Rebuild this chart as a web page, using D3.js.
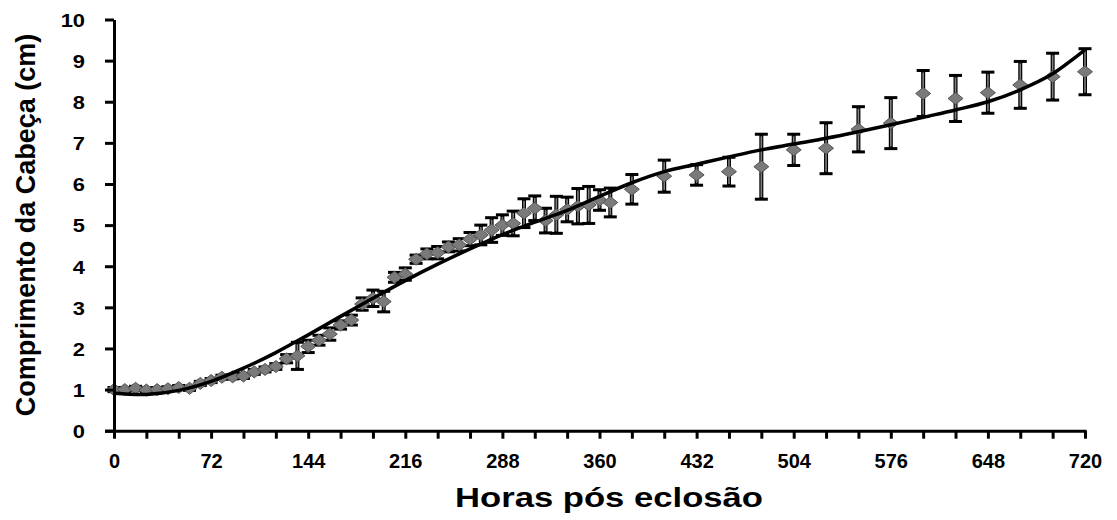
<!DOCTYPE html>
<html>
<head>
<meta charset="utf-8">
<script src="https://cdn.jsdelivr.net/npm/d3@7"></script>
<style>
  html, body { margin: 0; padding: 0; background: #fff; }
  svg { display: block; }
  text { font-family: "Liberation Sans", Arial, sans-serif; font-weight: bold; fill: #000; }
</style>
</head>
<body>
<svg id="chart" width="1117" height="520"></svg>
<script>
// Head length (cm) measured against hours after hatching
const hours = [0, 8, 16, 24, 32, 40, 48, 56, 64, 72, 80, 88, 96, 104, 112, 120, 128, 136,
  144, 152, 160, 168, 176, 184, 192, 200, 208, 216, 224, 232, 240, 248, 256, 264, 272,
  280, 288, 296, 304, 312, 320, 328, 336, 344, 352, 360, 368,
  384, 408, 432, 456, 480, 504, 528, 552, 576, 600, 624, 648, 672, 696, 720];

const meanLength = [1.00, 1.00, 1.03, 0.99, 1.00, 1.02, 1.05, 1.03, 1.15, 1.22, 1.30, 1.31, 1.33, 1.43, 1.49, 1.56, 1.75, 1.82,
  2.05, 2.20, 2.35, 2.57, 2.69, 3.08, 3.22, 3.14, 3.73, 3.81, 4.17, 4.30, 4.33, 4.47, 4.52, 4.66, 4.76,
  4.88, 5.00, 5.04, 5.29, 5.41, 5.11, 5.25, 5.38, 5.46, 5.49, 5.61, 5.55,
  5.87, 6.19, 6.22, 6.30, 6.42, 6.83, 6.87, 7.33, 7.48, 8.20, 8.08, 8.22, 8.41, 8.61, 8.73];

const stdDev = [0.05, 0.05, 0.05, 0.05, 0.05, 0.05, 0.05, 0.05, 0.05, 0.05, 0.05, 0.05, 0.06, 0.06, 0.06, 0.07, 0.10, 0.33,
  0.15, 0.12, 0.15, 0.10, 0.12, 0.15, 0.20, 0.25, 0.12, 0.15, 0.10, 0.12, 0.15, 0.12, 0.15, 0.16, 0.24,
  0.30, 0.25, 0.30, 0.35, 0.30, 0.30, 0.45, 0.30, 0.43, 0.45, 0.25, 0.35,
  0.36, 0.39, 0.25, 0.35, 0.79, 0.38, 0.62, 0.55, 0.62, 0.56, 0.56, 0.50, 0.57, 0.57, 0.56];

// Fitted growth curve
const fitHours = [0, 24, 48, 72, 96, 120, 144, 168, 192, 216, 240, 264, 288, 312, 336, 360,
  384, 408, 432, 456, 480, 504, 528, 552, 576, 600, 624, 648, 672, 696, 720];
const fitLength = [0.91, 0.88, 0.98, 1.20, 1.52, 1.90, 2.33, 2.78, 3.22, 3.65, 4.05, 4.42, 4.77, 5.07, 5.36, 5.70,
  6.03, 6.30, 6.48, 6.66, 6.83, 6.97, 7.11, 7.27, 7.44, 7.62, 7.80, 8.00, 8.29, 8.68, 9.26];

const xTickLabels = [0, 72, 144, 216, 288, 360, 432, 504, 576, 648, 720];
const yTickLabels = [0, 1, 2, 3, 4, 5, 6, 7, 8, 9, 10];

const xTitle = "Horas pós eclosão";
const yTitle = "Comprimento da Cabeça (cm)";

const svg = d3.select("#chart");
const x = d3.scaleLinear().domain([0, 720]).range([114, 1085]);
const y = d3.scaleLinear().domain([0, 10]).range([430.7, 19.5]);

// Error bars: dark stem with a grey core, black caps
const eb = svg.append("g");
const points = hours.map((h, i) => ({ h, v: meanLength[i], e: stdDev[i] }));
eb.selectAll("line.stem").data(points).join("line")
  .attr("x1", d => x(d.h)).attr("x2", d => x(d.h))
  .attr("y1", d => y(d.v + d.e)).attr("y2", d => y(d.v - d.e))
  .attr("stroke", "#000").attr("stroke-width", 4);
eb.selectAll("line.core").data(points).join("line")
  .attr("x1", d => x(d.h)).attr("x2", d => x(d.h))
  .attr("y1", d => y(d.v + d.e) + 2).attr("y2", d => y(d.v - d.e) - 2)
  .attr("stroke", "#808080").attr("stroke-width", 1.6);
["top", "bottom"].forEach(side => {
  eb.selectAll("line.cap-" + side).data(points).join("line")
    .attr("x1", d => x(d.h) - 6.5).attr("x2", d => x(d.h) + 6.5)
    .attr("y1", d => y(side === "top" ? d.v + d.e : d.v - d.e))
    .attr("y2", d => y(side === "top" ? d.v + d.e : d.v - d.e))
    .attr("stroke", "#000").attr("stroke-width", 3);
});

// Diamond markers
svg.append("g").selectAll("path").data(points).join("path")
  .attr("d", d => {
    const cx = x(d.h), cy = y(d.v);
    return `M${cx - 7.5},${cy} L${cx},${cy - 6} L${cx + 7.5},${cy} L${cx},${cy + 6} Z`;
  })
  .attr("fill", "#7a7a7a").attr("stroke", "#555").attr("stroke-width", 1);

// Trend curve
svg.append("path")
  .datum(fitHours.map((h, i) => [h, fitLength[i]]))
  .attr("fill", "none").attr("stroke", "#000").attr("stroke-width", 3.5)
  .attr("d", d3.line().x(d => x(d[0])).y(d => y(d[1])).curve(d3.curveCatmullRom.alpha(0.5)));

// Axes
const yAxis = d3.axisLeft(y).tickValues(yTickLabels).tickSize(9).tickSizeOuter(0).tickPadding(20)
  .tickFormat(d3.format("d"));
const gy = svg.append("g").attr("transform", "translate(114,0)").call(yAxis);
gy.selectAll("path.domain").attr("stroke", "#000").attr("stroke-width", 3);
gy.selectAll(".tick line").attr("stroke", "#000").attr("stroke-width", 3);
gy.selectAll(".tick text").style("font-size", "19px").attr("font-family", null)
  .attr("transform", "scale(1.15,1)").attr("x", -29 / 1.15).attr("dy", "0.36em");

const xAxis = d3.axisBottom(x).tickValues(d3.range(0, 721, 24)).tickSize(8).tickSizeOuter(0).tickPadding(15)
  .tickFormat(d => xTickLabels.includes(d) ? d : "");
const gx = svg.append("g").attr("transform", "translate(0,430.7)").call(xAxis);
gx.select("path.domain").attr("d", `M${105},0.5H${x(720) + 1.5}`)
  .attr("stroke", "#000").attr("stroke-width", 3);
gx.selectAll(".tick line").attr("stroke", "#000").attr("stroke-width", 3);
gx.selectAll(".tick text").style("font-size", "20px").attr("font-family", null);

// Axis titles
svg.append("text").attr("x", 609).attr("y", 507).attr("text-anchor", "middle")
  .style("font-size", "27px").attr("textLength", 308).attr("lengthAdjust", "spacingAndGlyphs")
  .text(xTitle);
svg.append("text").attr("transform", "translate(35,225) rotate(-90)").attr("text-anchor", "middle")
  .style("font-size", "27px").text(yTitle);
</script>
</body>
</html>
